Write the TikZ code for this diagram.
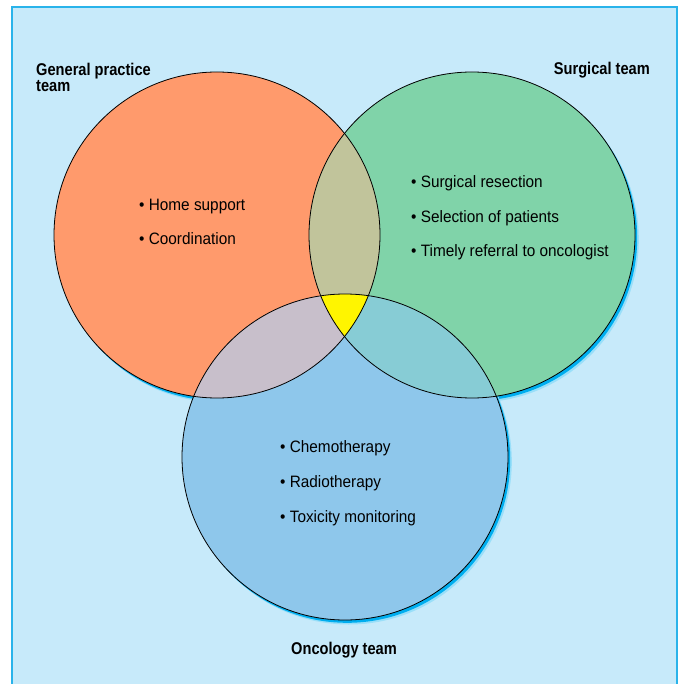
\documentclass[tikz,border=0pt]{standalone}
\usepackage{fontspec}
\setmainfont{Liberation Sans}[FakeStretch=0.93]
\newfontfamily\labfont{Liberation Sans}[FakeStretch=0.86]
\definecolor{panelbg}{HTML}{C7EAFA}
\definecolor{panelline}{HTML}{29B3EA}
\definecolor{gpcol}{HTML}{FF9A6C}
\definecolor{sgcol}{HTML}{80D3A9}
\definecolor{oncol}{HTML}{8EC7EB}
\definecolor{gpsg}{HTML}{C1C49B}
\definecolor{gpon}{HTML}{C8BFCB}
\definecolor{sgon}{HTML}{87CCD5}
\definecolor{allcol}{HTML}{FFF500}
\definecolor{shadowcol}{HTML}{00AEEF}
\begin{document}
\begin{tikzpicture}[x=1pt,y=-1pt,
  bodytext/.style={anchor=base west,inner sep=0pt,font=\fontsize{16.5}{20}\selectfont},
  labeltext/.style={inner sep=0pt,font=\labfont\bfseries\fontsize{17}{16}\selectfont},
  outline/.style={draw=black,line width=0.8pt}]
\useasboundingbox (0,0) rectangle (683,684);
\fill[white] (0,0) rectangle (683,684);
\fill[panelbg] (12,7) rectangle (677,684);
\draw[panelline,line width=2pt] (12,690) -- (12,7) -- (677,7) -- (677,690);
% circle centres
\coordinate (cg) at (217,235);
\coordinate (cs) at (472,235);
\coordinate (co) at (345,457);
\def\R{163}
% shadows
\foreach \c in {cg,cs,co}{
  \fill[shadowcol!40] ([shift={(3.8,4.5)}]\c) circle (\R);
  \fill[shadowcol] ([shift={(2.2,2.8)}]\c) circle (\R);
}
% fills
\fill[gpcol] (cg) circle (\R);
\fill[sgcol] (cs) circle (\R);
\fill[oncol] (co) circle (\R);
\begin{scope}\clip (cg) circle (\R); \fill[gpsg] (cs) circle (\R); \end{scope}
\begin{scope}\clip (cg) circle (\R); \fill[gpon] (co) circle (\R); \end{scope}
\begin{scope}\clip (cs) circle (\R); \fill[sgon] (co) circle (\R); \end{scope}
\begin{scope}\clip (cg) circle (\R); \clip (cs) circle (\R); \fill[allcol] (co) circle (\R); \end{scope}
% outlines
\draw[outline] (cg) circle (\R);
\draw[outline] (cs) circle (\R);
\draw[outline] (co) circle (\R);
% labels
\node[labeltext,anchor=base west,align=left] (lgp) at (36,92) {General practice\\team};
\node[labeltext,anchor=base east] (lsg) at (650,75) {Surgical team};
\node[labeltext,anchor=base] (lon) at (344,654) {Oncology team};
% GP items
\node[bodytext] (g1) at (139,211) {\textbullet\ Home support};
\node[bodytext] (g2) at (139,245) {\textbullet\ Coordination};
% Surgical items
\node[bodytext] (s1) at (411,188) {\textbullet\ Surgical resection};
\node[bodytext] (s2) at (411,222.5) {\textbullet\ Selection of patients};
\node[bodytext] (s3) at (411,257) {\textbullet\ Timely referral to oncologist};
% Oncology items
\node[bodytext] (o1) at (280,452) {\textbullet\ Chemotherapy};
\node[bodytext] (o2) at (280,487) {\textbullet\ Radiotherapy};
\node[bodytext] (o3) at (280,522) {\textbullet\ Toxicity monitoring};
\end{tikzpicture}
\end{document}
